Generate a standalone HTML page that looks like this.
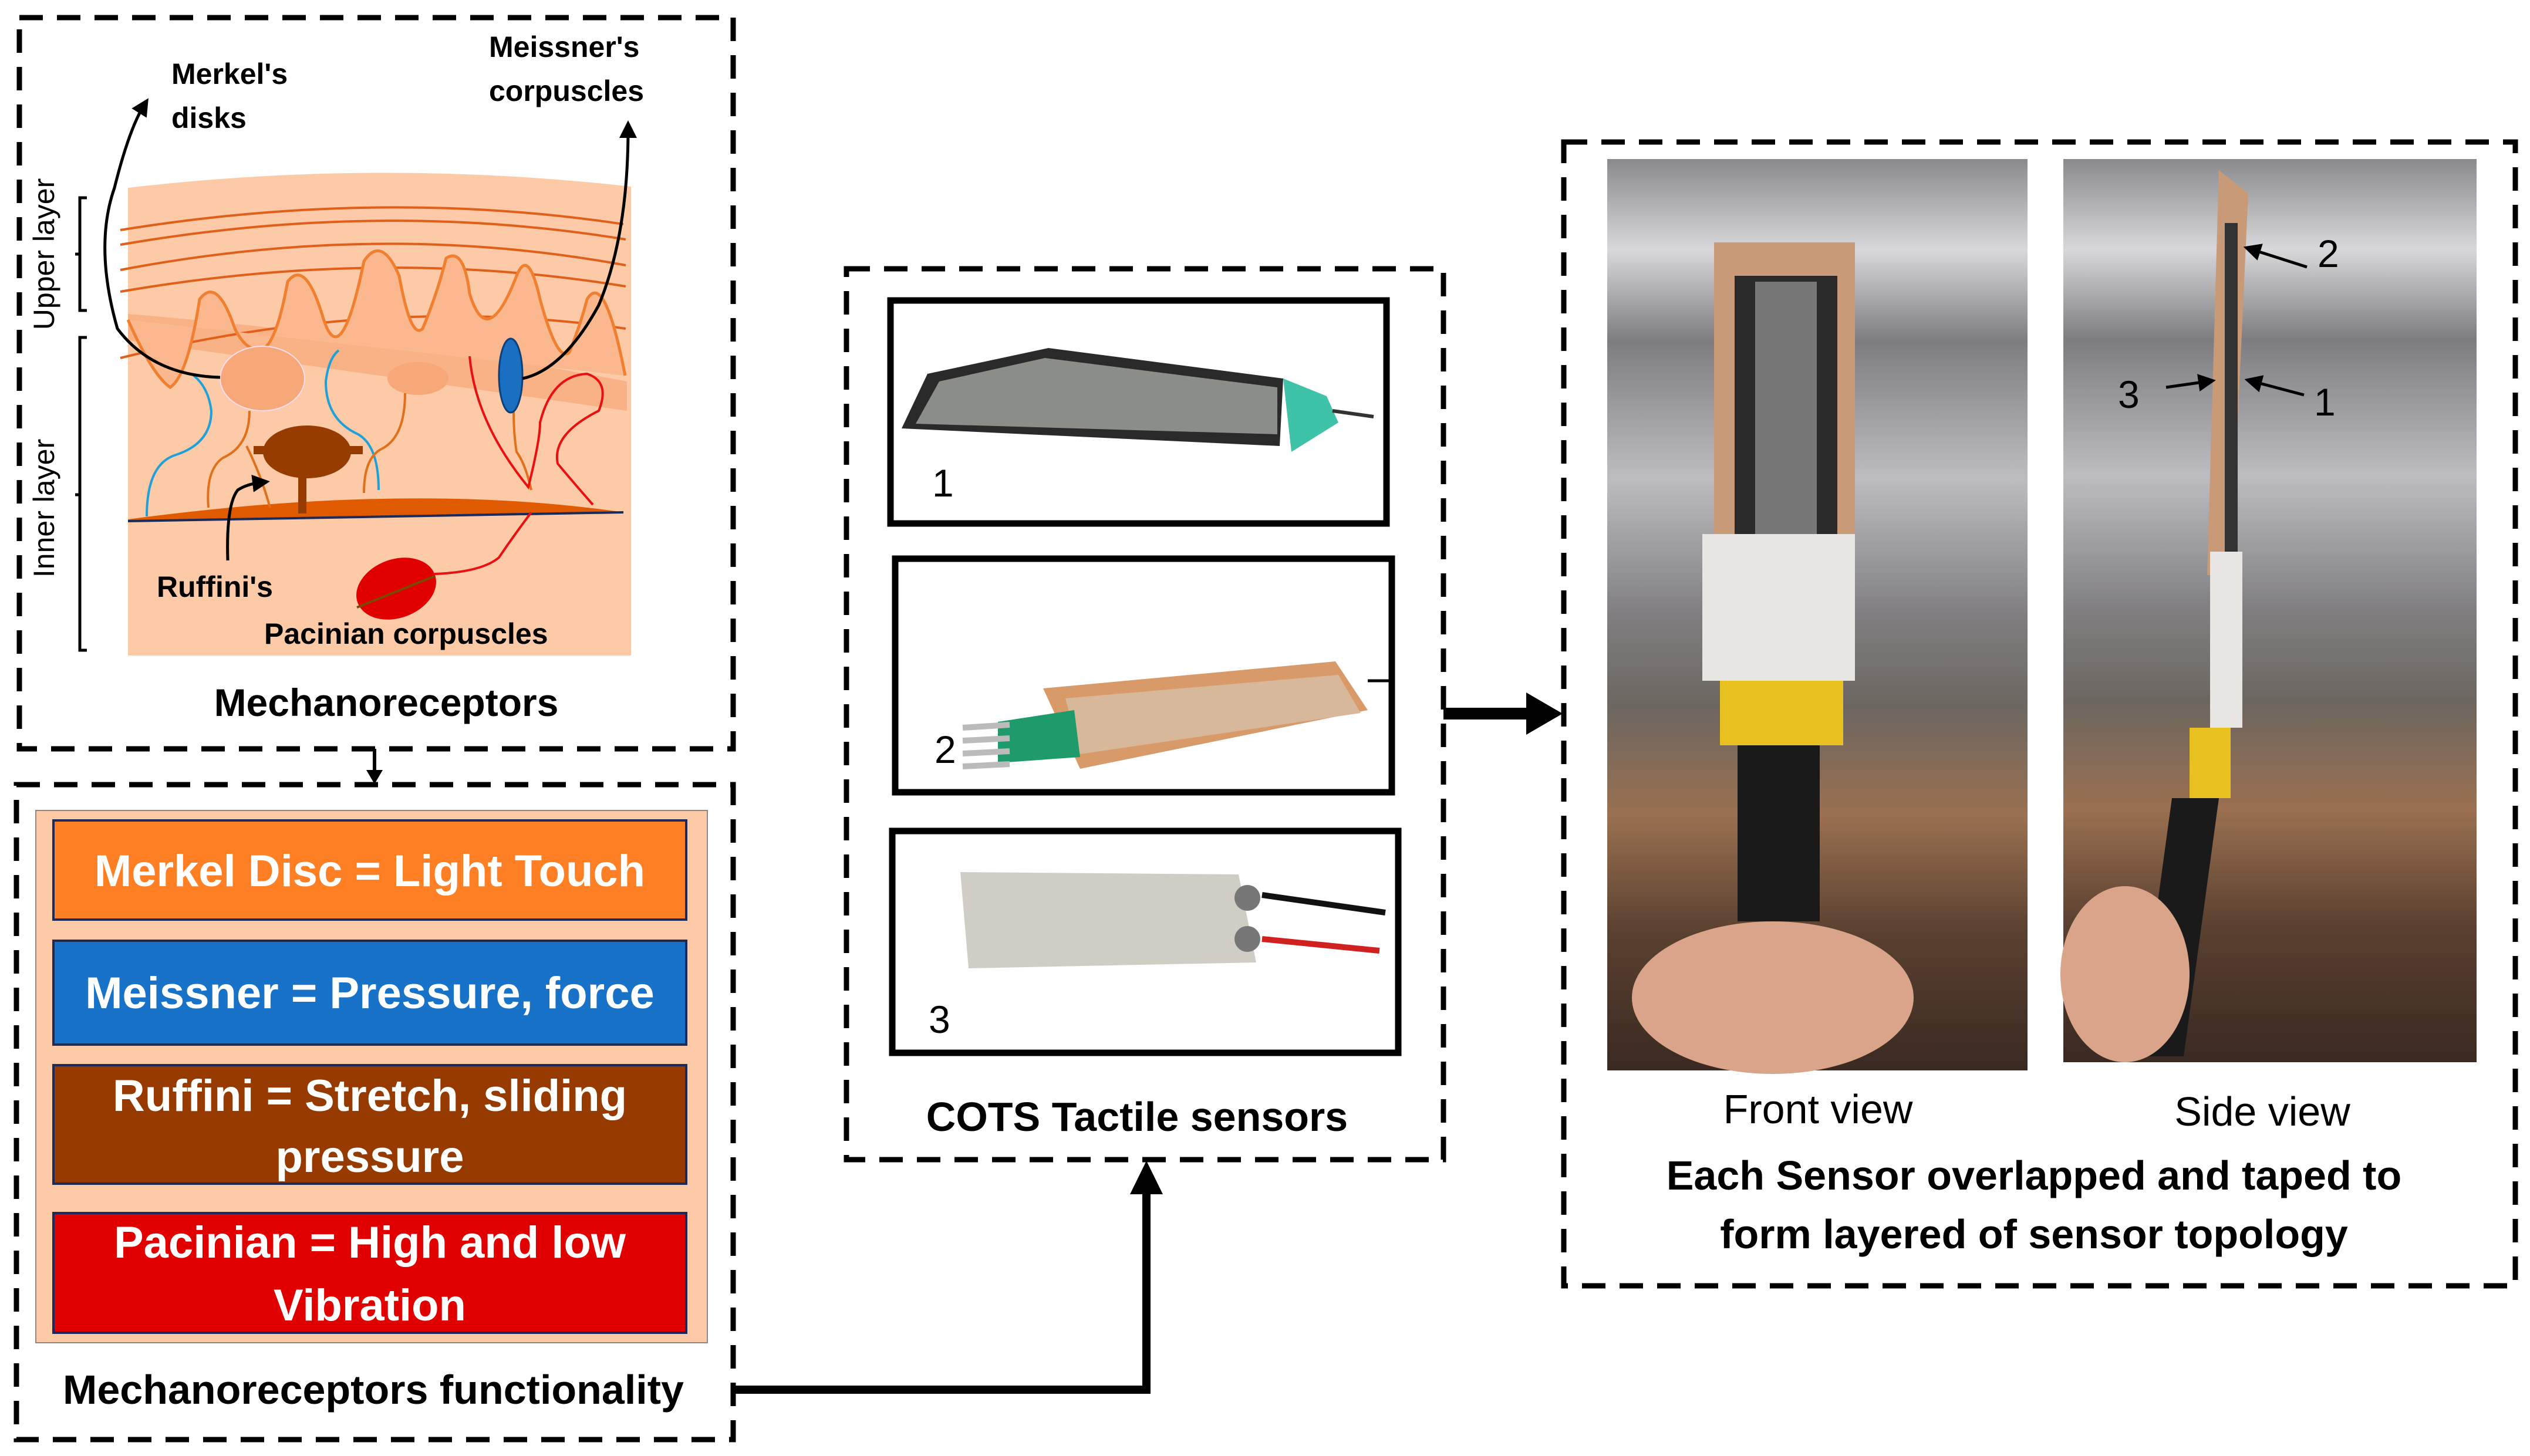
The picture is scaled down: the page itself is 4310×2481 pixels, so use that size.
<!DOCTYPE html>
<html><head><meta charset="utf-8"><style>
html,body{margin:0;padding:0;background:#fff;width:4310px;height:2481px;overflow:hidden}
svg{display:block}
text{font-family:"Liberation Sans",sans-serif}
</style></head><body>
<svg width="4310" height="2481" viewBox="0 0 4310 2481" xmlns="http://www.w3.org/2000/svg">
<defs>
<marker id="ah" markerWidth="6" markerHeight="6" refX="3" refY="3" orient="auto" markerUnits="strokeWidth"><path d="M0,0 L6,3 L0,6 z" fill="#000"/></marker>
<linearGradient id="bgphoto" x1="0" y1="0" x2="0" y2="1">
<stop offset="0" stop-color="#8a8a8c"/><stop offset="0.1" stop-color="#d8d8da"/><stop offset="0.2" stop-color="#7d7c80"/><stop offset="0.35" stop-color="#bdbdc0"/><stop offset="0.5" stop-color="#807e80"/><stop offset="0.6" stop-color="#6c6660"/><stop offset="0.72" stop-color="#9a7050"/><stop offset="0.85" stop-color="#5a4030"/><stop offset="1" stop-color="#3a2a22"/></linearGradient>
</defs>
<g fill="none" stroke="#000" stroke-width="9" stroke-dasharray="40,24">
<rect x="33" y="30" width="1216" height="1246"/>
<rect x="28" y="1337" width="1221" height="1116"/>
<rect x="1442" y="458" width="1017" height="1518"/>
<rect x="2664" y="242" width="1621" height="1949"/>
</g>
<!-- skin illustration -->
<g>
<path d="M218,320 Q650,270 1075,318 L1075,1117 L218,1117 Z" fill="#fdcaa8"/>
<path d="M218,535 Q650,570 1068,650 L1068,700 Q650,640 218,580 Z" fill="#f8ae82" opacity="0.9"/>
<g stroke="#e0601a" stroke-width="4" fill="none">
<path d="M205,392 Q650,320 1062,382"/><path d="M205,417 Q650,340 1066,408"/><path d="M205,460 Q650,375 1066,452"/><path d="M205,497 Q650,420 1066,488"/><path d="M205,610 Q650,500 1066,560"/>
</g>
<path d="M218,545 Q260,640 290,660 Q320,640 340,510 Q370,470 400,560 Q420,600 445,595 Q470,590 490,480 Q520,440 550,540 Q580,640 620,445 Q650,400 680,470 Q700,580 720,560 Q745,500 760,440 Q790,420 800,500 Q830,600 880,470 Q900,420 920,510 Q950,620 970,600 Q990,550 1000,510 Q1030,460 1065,640" fill="#fbb78d" stroke="#f08030" stroke-width="5"/>
<ellipse cx="447" cy="645" rx="72" ry="55" fill="#f6a878" stroke="#fde" stroke-width="2"/>
<ellipse cx="712" cy="645" rx="52" ry="28" fill="#f6a878"/>
<path d="M218,885 Q700,820 1062,873 L218,888 Z" fill="#e05a00"/>
<line x1="218" y1="888" x2="1062" y2="873" stroke="#1a2a5a" stroke-width="4"/>
<g fill="none" stroke-width="4">
<path d="M250,880 Q250,790 300,775 Q360,755 360,700 Q355,660 330,640" stroke="#1ea0d8"/>
<path d="M645,835 Q645,760 610,740 Q555,715 555,650 Q560,610 577,597" stroke="#1ea0d8"/>
<path d="M355,865 Q350,800 380,780 Q425,760 425,700" stroke="#e0701a"/>
<path d="M620,840 Q620,780 650,765 Q690,745 690,670" stroke="#e0701a"/>
<path d="M905,835 Q895,790 880,770 Q875,740 875,700" stroke="#e0701a"/>
<path d="M800,607 Q810,720 900,830 Q920,750 920,720 Q940,640 1000,637 Q1040,650 1020,700 Q940,740 950,790 Q975,820 1010,860" stroke="#e81010"/>
<path d="M905,873 Q870,920 850,950 Q820,975 740,978" stroke="#e81010"/>
<path d="M460,865 Q445,810 420,760" stroke="#e0701a"/>
</g>
<ellipse cx="523" cy="770" rx="75" ry="45" fill="#963c00"/>
<rect x="508" y="790" width="14" height="85" fill="#963c00"/>
<rect x="432" y="760" width="30" height="14" fill="#963c00"/><rect x="588" y="760" width="30" height="14" fill="#963c00"/>
<ellipse cx="870" cy="640" rx="20" ry="63" fill="#1a6fc0" stroke="#0d3f7a" stroke-width="3"/>
<ellipse cx="675" cy="1003" rx="70" ry="50" fill="#e00000" transform="rotate(-20 675 1003)"/>
<line x1="608" y1="1035" x2="740" y2="982" stroke="#7a4a00" stroke-width="4"/>
<g fill="none" stroke="#000" stroke-width="5">
<path d="M375,643 Q260,640 200,560 Q160,420 195,320 Q220,220 245,180" marker-end="url(#ah)"/>
<path d="M890,645 Q960,630 1020,520 Q1070,400 1070,220" marker-end="url(#ah)"/>
<path d="M388,955 Q385,860 405,835 Q420,825 445,822" marker-end="url(#ah)"/>
<path d="M148,337 h-12 v192 h12 M136,433 h-8"/>
<path d="M148,575 h-12 v533 h12 M136,843 h-8"/>
</g>
<text x="292" y="143" font-size="50" font-weight="bold">Merkel's</text>
<text x="292" y="218" font-size="50" font-weight="bold">disks</text>
<text x="833" y="97" font-size="50" font-weight="bold">Meissner's</text>
<text x="833" y="172" font-size="50" font-weight="bold">corpuscles</text>
<text x="267" y="1017" font-size="50" font-weight="bold">Ruffini's</text>
<text x="450" y="1097" font-size="50" font-weight="bold">Pacinian corpuscles</text>
<text transform="translate(92 433) rotate(-90)" text-anchor="middle" font-size="50">Upper layer</text>
<text transform="translate(92 866) rotate(-90)" text-anchor="middle" font-size="50">Inner layer</text>
<text x="658" y="1220" text-anchor="middle" font-size="66" font-weight="bold">Mechanoreceptors</text>
</g>
<!-- small arrow box1->box2 -->
<line x1="638" y1="1276" x2="638" y2="1318" stroke="#000" stroke-width="6"/>
<path d="M624,1312 L652,1312 L638,1336 z" fill="#000"/>
<!-- functionality -->
<rect x="61" y="1381" width="1144" height="907" fill="#fdcaa8" stroke="#888" stroke-width="2"/>
<rect x="91" y="1398" width="1078" height="169" fill="#fe7f24" stroke="#1a2a5a" stroke-width="4"/>
<rect x="91" y="1603" width="1078" height="177" fill="#1872c8" stroke="#1a2a5a" stroke-width="4"/>
<rect x="91" y="1815" width="1078" height="202" fill="#973a00" stroke="#1a2a5a" stroke-width="4"/>
<rect x="91" y="2067" width="1078" height="204" fill="#e00000" stroke="#1a2a5a" stroke-width="4"/>
<g fill="#fff" font-size="76" font-weight="bold" text-anchor="middle">
<text x="630" y="1510">Merkel Disc = Light Touch</text>
<text x="630" y="1718">Meissner = Pressure, force</text>
<text x="630" y="1893">Ruffini = Stretch, sliding</text>
<text x="630" y="1997">pressure</text>
<text x="630" y="2143">Pacinian = High and low</text>
<text x="630" y="2250">Vibration</text>
</g>
<text x="636" y="2392" text-anchor="middle" font-size="70" font-weight="bold">Mechanoreceptors functionality</text>
<!-- connector bottom -->
<path d="M1249,2368 H1953 V2020" fill="none" stroke="#000" stroke-width="14"/>
<path d="M1925,2035 L1981,2035 L1953,1978 z" fill="#000"/>
<!-- mid sensors -->
<g fill="#fff" stroke="#000" stroke-width="11">
<rect x="1517" y="512" width="845" height="380"/>
<rect x="1525" y="952" width="846" height="398"/>
<rect x="1520" y="1416" width="862" height="378"/>
</g>
<path d="M1580,637 L1786,593 L2186,645 L2180,760 L1536,730 Z" fill="#2a2a2a"/>
<path d="M1600,650 L1780,610 L2176,660 L2176,740 L1560,722 Z" fill="#8b8e88"/>
<path d="M2186,645 L2260,675 L2280,720 L2200,770 Z" fill="#3fc3a8"/>
<line x1="2270" y1="700" x2="2340" y2="710" stroke="#333" stroke-width="6"/>
<path d="M1777,1173 L2275,1127 L2330,1210 L1840,1310 Z" fill="#d99a6a"/>
<path d="M1815,1190 L2280,1150 L2318,1215 L1840,1285 Z" fill="#d8b89a"/>
<path d="M1700,1230 L1830,1210 L1840,1290 L1700,1300 Z" fill="#1f9a6a"/>
<g stroke="#bbb" stroke-width="10"><line x1="1640" y1="1240" x2="1720" y2="1235"/><line x1="1640" y1="1262" x2="1720" y2="1258"/><line x1="1640" y1="1284" x2="1720" y2="1280"/><line x1="1640" y1="1306" x2="1720" y2="1302"/></g>
<line x1="2330" y1="1160" x2="2370" y2="1160" stroke="#000" stroke-width="5"/>
<path d="M1636,1486 L2110,1490 L2140,1640 L1650,1650 Z" fill="#d0cec4"/>
<circle cx="2125" cy="1530" r="22" fill="#777"/><circle cx="2125" cy="1600" r="22" fill="#777"/>
<line x1="2150" y1="1525" x2="2360" y2="1555" stroke="#111" stroke-width="10"/>
<line x1="2150" y1="1600" x2="2350" y2="1620" stroke="#d02020" stroke-width="10"/>
<g font-size="66">
<text x="1588" y="846">1</text><text x="1592" y="1300">2</text><text x="1582" y="1760">3</text>
</g>
<text x="1937" y="1927" text-anchor="middle" font-size="70" font-weight="bold">COTS Tactile sensors</text>
<!-- arrow mid->right -->
<line x1="2459" y1="1216" x2="2610" y2="1216" stroke="#000" stroke-width="20"/>
<path d="M2600,1180 L2662,1216 L2600,1252 z" fill="#000"/>
<!-- photos -->
<rect x="2738" y="271" width="716" height="1553" fill="url(#bgphoto)"/>
<rect x="3515" y="271" width="704" height="1539" fill="url(#bgphoto)"/>
<rect x="2920" y="413" width="240" height="620" fill="#c89a78"/>
<rect x="2955" y="470" width="175" height="560" fill="#2a2a2a"/>
<rect x="2990" y="480" width="105" height="540" fill="#777"/>
<rect x="2900" y="910" width="260" height="250" fill="#e8e6e2"/>
<rect x="2930" y="1160" width="210" height="110" fill="#e8c020"/>
<rect x="2960" y="1270" width="140" height="300" fill="#1a1a1a"/>
<ellipse cx="3020" cy="1700" rx="240" ry="130" fill="#d9a48a"/>
<path d="M3780,290 L3830,330 L3800,980 L3760,980 Z" fill="#c89a78"/>
<rect x="3790" y="380" width="22" height="600" fill="#333"/>
<rect x="3765" y="940" width="55" height="300" fill="#e8e6e2"/>
<rect x="3730" y="1240" width="70" height="120" fill="#e8c020"/>
<path d="M3700,1360 L3780,1360 L3720,1800 L3640,1800 Z" fill="#1a1a1a"/>
<ellipse cx="3620" cy="1660" rx="110" ry="150" fill="#d9a48a"/>
<g stroke="#000" stroke-width="5" fill="none">
<line x1="3930" y1="455" x2="3836" y2="425" marker-end="url(#ah)"/>
<line x1="3925" y1="673" x2="3838" y2="650" marker-end="url(#ah)"/>
<line x1="3690" y1="660" x2="3760" y2="650" marker-end="url(#ah)"/>
</g>
<g font-size="66"><text x="3948" y="455">2</text><text x="3942" y="708">1</text><text x="3608" y="695">3</text></g>
<text x="3097" y="1914" text-anchor="middle" font-size="70">Front view</text>
<text x="3854" y="1918" text-anchor="middle" font-size="70">Side view</text>
<text x="3465" y="2027" text-anchor="middle" font-size="70" font-weight="bold">Each Sensor overlapped and taped to</text>
<text x="3465" y="2127" text-anchor="middle" font-size="70" font-weight="bold">form layered of sensor topology</text>
</svg>
</body></html>
